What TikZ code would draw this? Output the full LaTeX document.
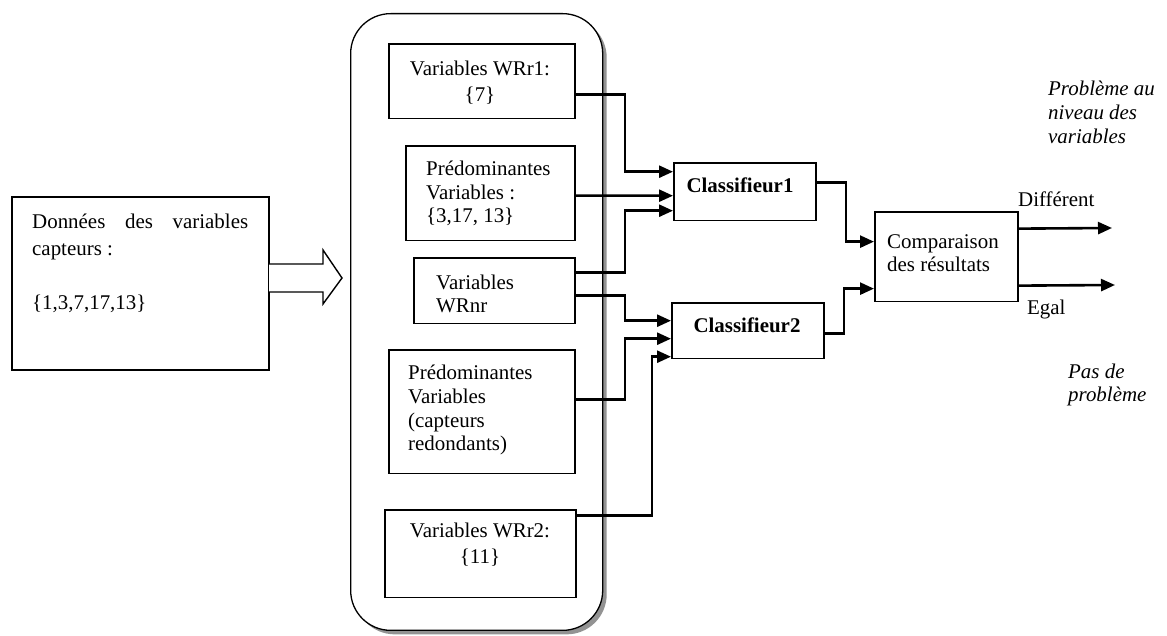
\documentclass[tikz,border=0pt]{standalone}
\usepackage{fontspec}
\setmainfont{Liberation Serif}
\usetikzlibrary{arrows.meta,shadows}

\begin{document}
\begin{tikzpicture}[x=1bp,y=-1bp,
  box/.style={draw, line width=1.6bp, inner sep=0, anchor=north west},
  group/.style={draw, line width=1.3bp, fill=white, rounded corners=40bp,
    inner sep=0, anchor=north west,
    drop shadow={shadow xshift=4bp, shadow yshift=-4bp, fill=gray!85, opacity=1}},
  wire/.style={line width=2.6bp, -{Triangle[length=14bp,width=12bp]}},
  txt/.style={inner sep=0, font=\fontsize{21}{24}\selectfont},
  lt/.style={txt, anchor=base west},
  ct/.style={txt, anchor=base},
  bt/.style={txt, anchor=base, font=\fontsize{21}{24}\selectfont\bfseries},
  it/.style={txt, anchor=base west, font=\fontsize{21}{24}\selectfont\itshape}]
\useasboundingbox (0,0) rectangle (1167,636);

% sensor data block and the hollow block arrow feeding the group
\node[box, minimum width=258, minimum height=174] (src) at (11,196) {};
\draw[line width=1.4bp, fill=white] (269,264) -- (323,264) -- (323,250) -- (342,278)
  -- (323,304) -- (323,292) -- (269,292);

% rounded group of variable sets
\node[group, minimum width=253, minimum height=619] (grp) at (350,13) {};

\node[box, minimum width=187, minimum height=75]  (b1) at (388,43) {};
\node[box, minimum width=170, minimum height=95]  (b2) at (405,145) {};
\node[box, minimum width=162, minimum height=66]  (b3) at (413,257) {};
\node[box, minimum width=187, minimum height=124] (b4) at (388,349) {};
\node[box, minimum width=192, minimum height=88]  (b5) at (384,509) {};

% classifiers and comparison
\node[box, minimum width=143, minimum height=58] (c1) at (673,162) {};
\node[box, minimum width=153, minimum height=56] (c2) at (671,302) {};
\node[box, minimum width=144, minimum height=90] (cmp) at (874,211) {};

% texts
\node[lt] (s1) at (32,229) {\makebox[216bp][s]{Données des variables}};
\node[lt] (s2) at (32,256) {capteurs :};
\node[lt] (s3) at (32,310) {\{1,3,7,17,13\}};

\node[ct] (b1a) at (480,76)  {Variables WRr1:};
\node[ct] (b1b) at (480,102) {\{7\}};

\node[lt] (b2a) at (426,176) {Prédominantes};
\node[lt] (b2b) at (426,200) {Variables :};
\node[lt] (b2c) at (426,223) {\{3,17, 13\}};

\node[lt] (b3a) at (436,290) {Variables};
\node[lt] (b3b) at (436,313) {WRnr};

\node[lt] (b4a) at (408,379) {Prédominantes};
\node[lt] (b4b) at (408,403) {Variables};
\node[lt] (b4c) at (408,427) {(capteurs};
\node[lt] (b4d) at (408,450) {redondants)};

\node[ct] (b5a) at (480,537) {Variables WRr2:};
\node[ct] (b5b) at (480,563) {\{11\}};

\node[bt] (c1t) at (740,193) {Classifieur1};
\node[bt] (c2t) at (747,333) {Classifieur2};

\node[lt] (cm1) at (887,249) {Comparaison};
\node[lt] (cm2) at (887,272) {des résultats};

\node[lt] (dif) at (1018,207) {Différent};
\node[lt] (eg)  at (1027,315) {Egal};

\node[it] (p1) at (1048,96)  {Problème au};
\node[it] (p2) at (1048,120) {niveau des};
\node[it] (p3) at (1048,144) {variables};
\node[it] (q1) at (1068,378) {Pas de};
\node[it] (q2) at (1068,401) {problème};

% connectors
\draw[wire] ([yshift=-13.5bp]b1.east) -- ++(49,0) |- ([yshift=20bp]c1.west);
\draw[wire] ([yshift=-2.5bp]b2.east) -- ([yshift=-4bp]c1.west);
\draw[wire] ([yshift=18bp]b3.east) -- ++(49,0) |- ([yshift=-19bp]c1.west);
\draw[wire] ([yshift=-5bp]b3.east) -- ++(49,0) |- ([yshift=10bp]c2.west);
\draw[wire] ([yshift=12bp]b4.east) -- ++(49,0) |- ([yshift=-8bp]c2.west);
\draw[wire] ([yshift=38bp]b5.east) -- ++(75,0) |- ([yshift=-26bp]c2.west);
\draw[wire] ([yshift=9bp]c1.east) -- ++(29,0) |- ([yshift=15bp]cmp.west);
\draw[wire] ([yshift=-3bp]c2.east) -- ++(19,0) |- ([yshift=-32bp]cmp.west);

\coordinate (o1) at (1112,228);
\coordinate (o2) at (1115,285);
\draw[wire] ([yshift=28bp]cmp.east) -- (o1);
\draw[wire] ([yshift=-29bp]cmp.east) -- (o2);
\end{tikzpicture}
\end{document}
